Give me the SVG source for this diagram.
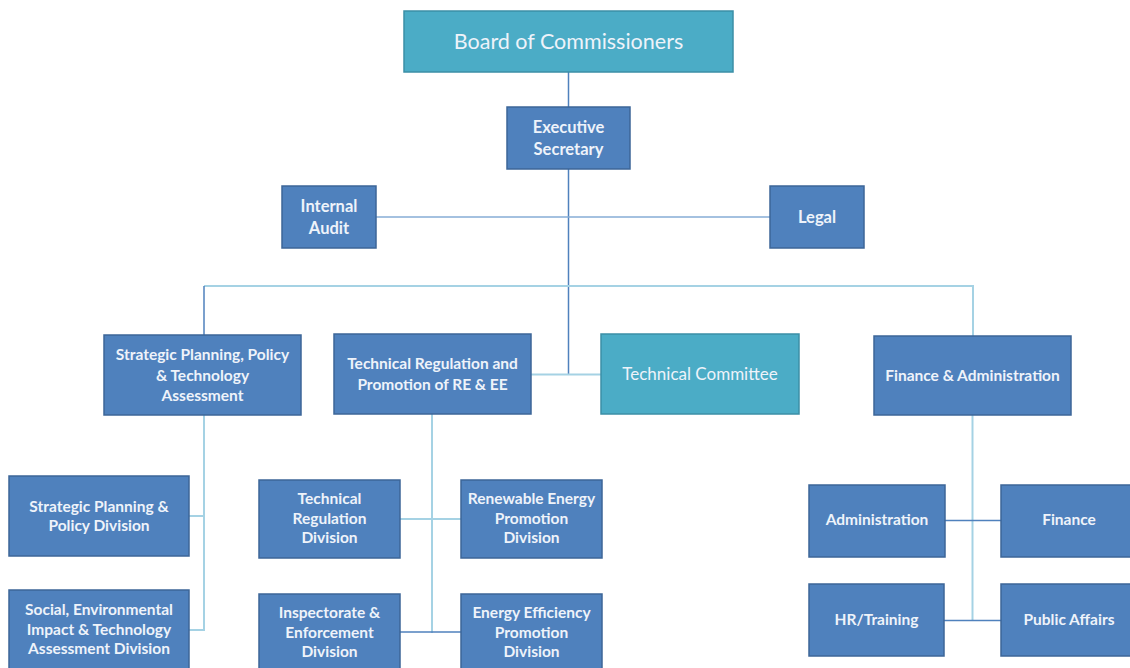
<svg xmlns="http://www.w3.org/2000/svg" width="1130" height="668" viewBox="0 0 1130 668">
<style>
.b{fill:#4f81bd;stroke:#3c6698;stroke-width:1.5}
.t{fill:#4bacc6;stroke:#3b8fa6;stroke-width:1.5}
text{font-family:Lato,"Open Sans","Liberation Sans",sans-serif;fill:#eef3fa;text-anchor:middle;font-size:15.5px;font-weight:700}
.dk{stroke:#4f81bd;stroke-width:1.5;fill:none}
.lt{stroke:#a5d2e4;stroke-width:2;fill:none}
.md{stroke:#86acd6;stroke-width:1.5;fill:none}
</style>
<g id="connectors">
<path class="dk" d="M568.5 72V107M568.5 169V375"/>
<path class="md" d="M376 217H770"/>
<path class="lt" d="M204 286H973V336"/>
<path class="dk" d="M204 286V335"/>
<path class="lt" d="M531 374.5H601"/>
<path class="lt" d="M204 415V631M189 516H204M189 630H204"/>
<path class="lt" d="M432 414V633M400 519H461"/>
<path class="dk" d="M400 632H461"/>
<path class="lt" d="M972.5 415V621"/>
<path class="dk" d="M945 520.5H1001M944 620.5H1001"/>
</g>
<g id="board"><rect class="t" x="404" y="11" width="329" height="61"/><text x="568.5" y="49" style="font-size:21.5px;font-weight:400">Board of Commissioners</text></g>
<g id="exec"><rect class="b" x="507" y="107" width="123" height="62"/><text x="568.5" y="133" style="font-size:16.5px">Executive</text><text x="568.5" y="155" style="font-size:16.5px">Secretary</text></g>
<g id="audit"><rect class="b" x="282" y="186" width="94" height="62"/><text x="329" y="212" style="font-size:16.5px">Internal</text><text x="329" y="234" style="font-size:16.5px">Audit</text></g>
<g id="legal"><rect class="b" x="770" y="186" width="94" height="62"/><text x="817" y="223" style="font-size:16.5px">Legal</text></g>
<g id="spp"><rect class="b" x="104" y="335" width="197" height="80"/><text x="202.5" y="360">Strategic Planning, Policy</text><text x="202.5" y="381">&amp; Technology</text><text x="202.5" y="401">Assessment</text></g>
<g id="tr"><rect class="b" x="334" y="334" width="197" height="80"/><text x="432.5" y="369">Technical Regulation and</text><text x="432.5" y="390">Promotion of RE &amp; EE</text></g>
<g id="tc"><rect class="t" x="601" y="334" width="198" height="80"/><text x="700" y="380" style="font-weight:400;font-size:17px">Technical Committee</text></g>
<g id="fa"><rect class="b" x="874" y="336" width="197" height="79"/><text x="972.5" y="381">Finance &amp; Administration</text></g>
<g id="sppd"><rect class="b" x="9" y="476" width="180" height="80"/><text x="99" y="512">Strategic Planning &amp;</text><text x="99" y="531">Policy Division</text></g>
<g id="seia"><rect class="b" x="9" y="590" width="180" height="80"/><text x="99" y="615">Social, Environmental</text><text x="99" y="635">Impact  &amp; Technology</text><text x="99" y="654">Assessment  Division</text></g>
<g id="trd"><rect class="b" x="259" y="480" width="141" height="78"/><text x="329.5" y="504">Technical</text><text x="329.5" y="524">Regulation</text><text x="329.5" y="543">Division</text></g>
<g id="rep"><rect class="b" x="461" y="480" width="141" height="78"/><text x="531.5" y="504">Renewable Energy</text><text x="531.5" y="524">Promotion</text><text x="531.5" y="543">Division</text></g>
<g id="ie"><rect class="b" x="259" y="594" width="141" height="76"/><text x="329.5" y="618">Inspectorate &amp;</text><text x="329.5" y="638">Enforcement</text><text x="329.5" y="657">Division</text></g>
<g id="eep"><rect class="b" x="461" y="594" width="141" height="76"/><text x="531.5" y="618">Energy Efficiency</text><text x="531.5" y="638">Promotion</text><text x="531.5" y="657">Division</text></g>
<g id="admin"><rect class="b" x="809" y="485" width="136" height="72"/><text x="877" y="525">Administration</text></g>
<g id="fin"><rect class="b" x="1001" y="485" width="135" height="72"/><text x="1069" y="525">Finance</text></g>
<g id="hr"><rect class="b" x="809" y="584" width="135" height="72"/><text x="876.5" y="625">HR/Training</text></g>
<g id="pa"><rect class="b" x="1001" y="584" width="135" height="72"/><text x="1069" y="625">Public Affairs</text></g>
</svg>
